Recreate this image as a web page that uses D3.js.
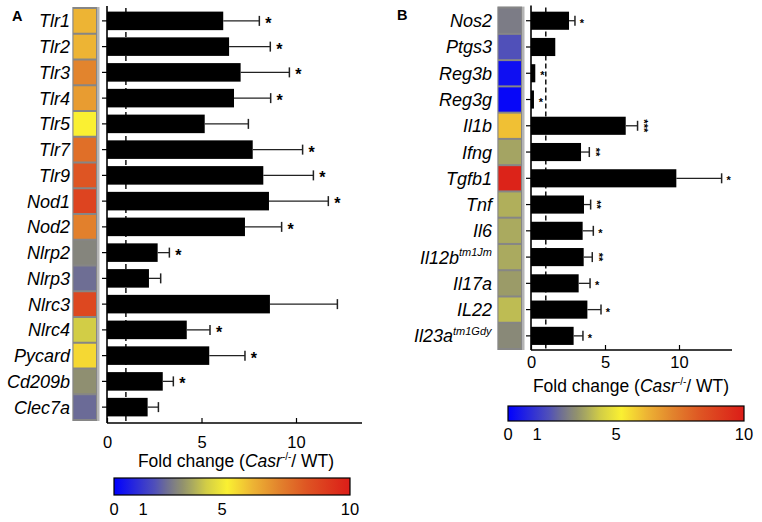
<!DOCTYPE html>
<html><head><meta charset="utf-8">
<script src="https://cdn.jsdelivr.net/npm/d3@7"></script>
<style>
html,body{margin:0;padding:0;background:#fff;}
svg{display:block;font-family:"Liberation Sans",Arial,Helvetica,sans-serif;}
</style></head>
<body><svg id="chart" width="762" height="522"></svg>
<script>
// ---------- Data ----------
const genesA = ["Tlr1","Tlr2","Tlr3","Tlr4","Tlr5","Tlr7","Tlr9","Nod1","Nod2","Nlrp2","Nlrp3","Nlrc3","Nlrc4","Pycard","Cd209b","Clec7a"];
const supA   = ["","","","","","","","","","","","","","","",""];
const foldA  = [6.15,6.46,7.07,6.72,5.17,7.71,8.27,8.57,7.30,2.68,2.22,8.62,4.22,5.41,2.95,2.15];
const errA   = [1.91,2.18,2.58,1.94,2.31,2.64,2.65,3.14,1.94,0.62,0.62,3.57,1.23,1.89,0.56,0.57];
const starsA = ["*","*","*","*","","*","*","*","*","*","","","*","*","*",""];
const heatA  = [6.2,6.2,7.2,6.7,5.2,7.7,8.3,8.8,7.3,2.7,2.2,8.7,4.2,5.6,2.95,2.15];

const genesB = ["Nos2","Ptgs3","Reg3b","Reg3g","Il1b","Ifng","Tgfb1","Tnf","Il6","Il12b","Il17a","IL22","Il23a"];
const supB   = ["","","","","","","","","","tm1Jm","","","tm1Gdy"];
const foldB  = [2.57,1.64,0.29,0.20,6.40,3.38,9.82,3.58,3.49,3.56,3.22,3.81,2.88];
const errB   = [0.40,0.00,0.00,0.00,0.80,0.56,3.06,0.45,0.72,0.58,0.77,0.92,0.63];
const starsB = ["*","","*","*","***","**","*","**","*","**","*","*","*"];
const heatB  = [2.5,1.6,0.3,0.15,6.0,3.38,9.8,3.6,3.5,3.5,3.2,3.85,2.8];

const xTicks = [0,5,10];
const cbarTicks = [0,1,5,10];
const cbarTickPos = [0,0.123,0.458,1]; // relative positions of colorbar tick labels

// colour scale for heat cells / colour bar
const heatStops  = [0,1.6,2.2,2.7,3.0,3.5,4.2,5.2,6.2,7.2,8.3,9.8,10];
const heatColors = ["#0000ff","#5050b9","#6e6e94","#85857d","#91916e","#aaaa5f","#d2cd46","#faf032","#edb434","#e2842d","#de5523","#dc2319","#dc1e19"];
const color = d3.scaleLinear().domain(heatStops).range(heatColors).clamp(true);

const svg = d3.select("#chart");
const defs = svg.append("defs");

function panel(cfg){
  const g = svg.append("g");
  const x = d3.scaleLinear().domain([0, cfg.xmax]).range([cfg.x0, cfg.x1]);
  const y = d3.scaleBand().domain(cfg.genes).range([cfg.yTop, cfg.yBot]).paddingInner(cfg.pad).paddingOuter(cfg.pad/2);
  const step = y.step();
  const bandTop = d => y(d) - (step - y.bandwidth())/2;

  // panel letter
  g.append("text").attr("x", cfg.letterX).attr("y", cfg.letterY)
    .attr("font-size", 14.5).attr("font-weight", "bold").text(cfg.letter);

  // heat column
  const hTop = bandTop(cfg.genes[0]) - 1, hBot = bandTop(cfg.genes[cfg.genes.length-1]) + step + 1;
  g.append("rect").attr("x", cfg.hx).attr("y", hTop).attr("width", cfg.hw + 3.5).attr("height", hBot - hTop).attr("fill", "#b4b4b4");
  g.append("rect").attr("x", cfg.hx).attr("y", hTop).attr("width", cfg.hw + 1).attr("height", hBot - hTop).attr("fill", "#868686");
  g.selectAll(".cell").data(cfg.genes).enter().append("rect")
    .attr("x", cfg.hx + 1).attr("y", d => bandTop(d) + 1)
    .attr("width", cfg.hw - 1).attr("height", step - 2)
    .attr("fill", (d,i) => color(cfg.heat[i]));

  // gene labels
  g.selectAll(".lab").data(cfg.genes).enter().append("text")
    .attr("x", (d,i) => cfg.labX - (cfg.sup[i] ? cfg.supW[i] : 0))
    .attr("y", d => y(d) + y.bandwidth()/2 + 6.5)
    .attr("text-anchor", "end").attr("font-size", 18).attr("font-style", "italic").text(d => d);
  cfg.genes.forEach((d,i) => {
    if (cfg.sup[i]) {
      g.append("text").attr("x", cfg.labX - cfg.supW[i]).attr("y", y(d) + y.bandwidth()/2 - 1)
        .attr("font-size", 11).attr("font-style", "italic").text(cfg.sup[i]);
    }
  });

  // dashed reference line at fold = 1
  g.append("line").attr("x1", x(1)).attr("x2", x(1)).attr("y1", cfg.yTop).attr("y2", cfg.axisY)
    .attr("stroke", "#000").attr("stroke-width", 1.4).attr("stroke-dasharray", "5,3");

  // bars
  g.selectAll(".bar").data(cfg.genes).enter().append("rect")
    .attr("x", x(0)).attr("y", d => y(d))
    .attr("width", (d,i) => x(cfg.fold[i]) - x(0)).attr("height", y.bandwidth())
    .attr("fill", "#000");

  // error bars
  cfg.genes.forEach((d,i) => {
    if (cfg.err[i] > 0) {
      const cy = y(d) + y.bandwidth()/2;
      const xe = x(cfg.fold[i] + cfg.err[i]);
      g.append("line").attr("x1", x(cfg.fold[i])).attr("x2", xe).attr("y1", cy).attr("y2", cy)
        .attr("stroke", "#222").attr("stroke-width", 1.3);
      g.append("line").attr("x1", xe).attr("x2", xe).attr("y1", cy - 5).attr("y2", cy + 5)
        .attr("stroke", "#222").attr("stroke-width", 1.5);
    }
  });

  // stars
  cfg.genes.forEach((d,i) => {
    const s = cfg.stars[i]; if (!s) return;
    const cy = y(d) + y.bandwidth()/2;
    const xe = x(cfg.fold[i] + cfg.err[i]);
    if (s.length === 1) {
      g.append("text").attr("x", xe + cfg.starGap).attr("y", cy + cfg.starDy)
        .attr("font-size", cfg.starSize).attr("font-weight", "bold").attr("text-anchor", "middle").text(s);
    } else {
      const sx = xe + cfg.starGap - 1;
      g.append("text").attr("transform", `translate(${sx},${cy}) rotate(90)`)
        .attr("x", 0).attr("y", cfg.starSize*0.05)
        .attr("font-size", cfg.starSize).attr("font-weight", "bold").attr("text-anchor", "middle")
        .attr("dominant-baseline", "middle").text(s);
    }
  });

  // y axis
  const yAxis = d3.axisLeft(y).tickSize(5).tickFormat("");
  const ya = g.append("g").attr("transform", `translate(${x(0)},0)`).call(yAxis);
  ya.select(".domain").remove();
  ya.selectAll("line").attr("stroke", "#000").attr("stroke-width", 1.2);
  g.append("line").attr("x1", x(0)).attr("x2", x(0)).attr("y1", cfg.yTop - 2).attr("y2", cfg.axisY)
    .attr("stroke", "#000").attr("stroke-width", 1.6);

  // x axis
  const xAxis = d3.axisBottom(x).tickValues(xTicks).tickSize(-5).tickPadding(cfg.tickPad).tickFormat(d3.format("d"));
  const xa = g.append("g").attr("transform", `translate(0,${cfg.axisY})`).call(xAxis);
  xa.select(".domain").attr("d", `M${x(0)},0H${cfg.axisEnd}`).attr("stroke-width", 1.4);
  xa.selectAll("line").attr("stroke-width", 1.2);
  xa.selectAll("text").attr("font-size", 16.5).attr("font-family", "Liberation Sans, Arial, sans-serif").attr("fill", "#000");

  // axis title
  const t = g.append("text").attr("x", cfg.titleX).attr("y", cfg.titleY).attr("text-anchor", "middle").attr("font-size", 17.5);
  t.append("tspan").text("Fold change (");
  t.append("tspan").attr("font-style", "italic").text("Casr");
  t.append("tspan").attr("font-size", 10).attr("dy", -7).text("-/-");
  t.append("tspan").attr("dy", 7).text("/ WT)");

  // colour bar
  const gid = "grad" + cfg.letter;
  const cpos = d3.scaleLinear().domain(cbarTicks).range(cbarTickPos);
  const grad = defs.append("linearGradient").attr("id", gid);
  heatStops.forEach((v,i) => {
    grad.append("stop").attr("offset", (cpos(v)*100) + "%").attr("stop-color", heatColors[i]);
  });
  g.append("rect").attr("x", cfg.cbX).attr("y", cfg.cbY).attr("width", cfg.cbW).attr("height", cfg.cbH)
    .attr("fill", `url(#${gid})`).attr("stroke", "#000").attr("stroke-width", 1.2);
  const cbx = d3.scaleLinear().domain(cbarTicks).range(cbarTickPos.map(p => cfg.cbX + p*cfg.cbW));
  g.selectAll(".cbl").data(cbarTicks).enter().append("text")
    .attr("x", d => cbx(d)).attr("y", cfg.cbLabY).attr("text-anchor", "middle").attr("font-size", 16.5).text(d => d);
}

panel({
  letter:"A", letterX:12, letterY:21,
  genes:genesA, sup:supA, supW:genesA.map(()=>0), fold:foldA, err:errA, stars:starsA, heat:heatA,
  xmax:10, x0:107, x1:296, axisEnd:362, yTop:8, yBot:420, pad:0.28, axisY:423, tickPad:13,
  hx:72.5, hw:23.5, labX:70,
  starGap:9, starDy:8, starSize:16,
  titleX:236, titleY:467,
  cbX:114, cbY:478, cbW:236, cbH:17, cbLabY:515
});

panel({
  letter:"B", letterX:397, letterY:20,
  genes:genesB, sup:supB, supW:[0,0,0,0,0,0,0,0,0,33,0,0,39], fold:foldB, err:errB, stars:starsB, heat:heatB,
  xmax:10, x0:531, x1:679, axisEnd:732, yTop:7.6, yBot:349, pad:0.31, axisY:350, tickPad:6.5,
  hx:497.5, hw:23.5, labX:492,
  starGap:7, starDy:6, starSize:11,
  titleX:631, titleY:392,
  cbX:508, cbY:406, cbW:236, cbH:15, cbLabY:440
});
</script></body></html>
